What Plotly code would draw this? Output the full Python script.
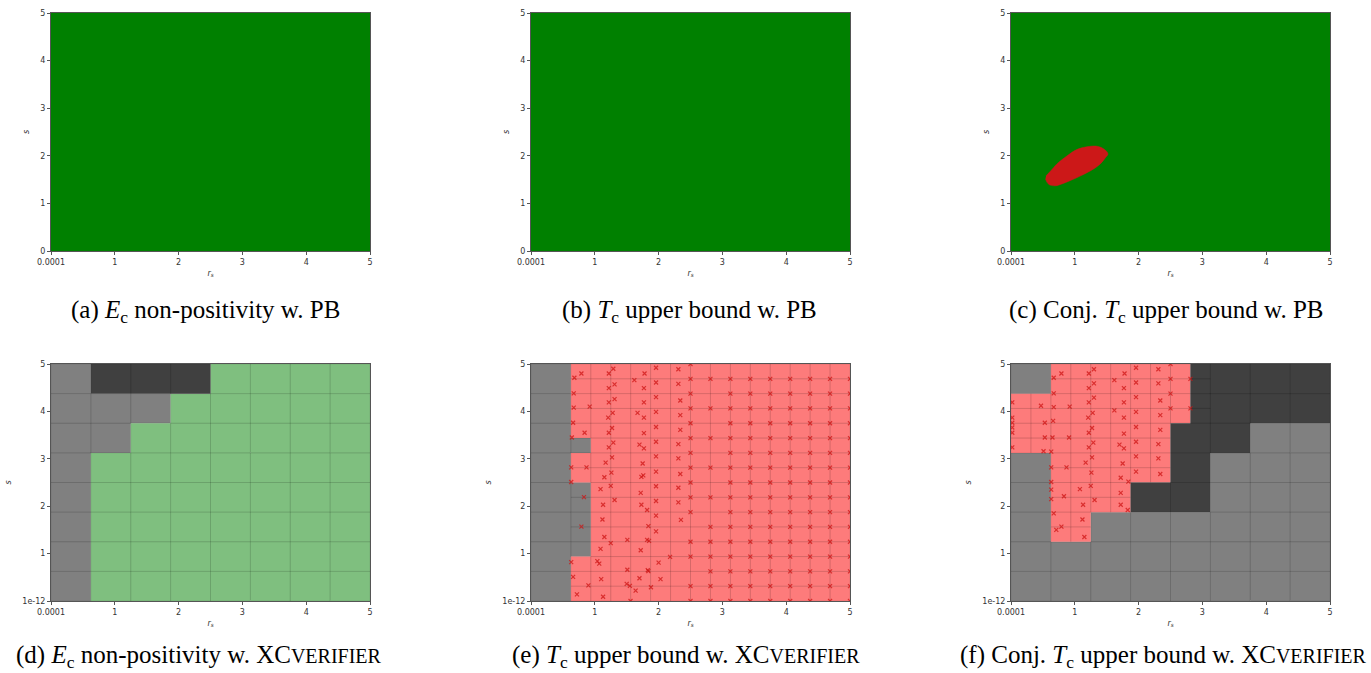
import plotly.graph_objects as go

# ---------------- data ----------------
# Verifier grid (r_s and s edges)
RS_EDGES = [0.0001, 0.3125, 0.625, 0.9375, 1.25, 1.5625, 1.875, 2.1875, 2.5,
            2.8125, 3.125, 3.4375, 3.75, 4.0625, 4.375, 4.6875, 5.0]
S_EDGES = [0.0, 0.3125, 0.625, 0.9375, 1.25, 1.5625, 1.875, 2.1875, 2.5,
           2.8125, 3.125, 3.4375, 3.75, 4.0625, 4.375, 4.6875, 5.0]

# Full domain (PB panels)
RS_RANGE = [0.0001, 5.0]
S_RANGE = [0.0, 5.0]

# Counterexample region of panel (c), boundary
ELLIPSE_RS = [0.54, 0.59, 0.69, 0.82, 1.03, 1.24, 1.40, 1.48, 1.52, 1.46, 1.35,
              1.19, 1.03, 0.88, 0.72, 0.62, 0.55]
ELLIPSE_S = [1.51, 1.40, 1.37, 1.42, 1.54, 1.68, 1.83, 1.96, 2.04, 2.14, 2.20,
             2.19, 2.13, 2.00, 1.83, 1.68, 1.58]

# Status codes: V verified, R counterexample, G not verified, D dark (other)
# Panel (d): coarse 8x8 grid, top row first
D_COARSE = [
    "GDDDVVVV",
    "GGGVVVVV",
    "GGVVVVVV",
    "GVVVVVVV",
    "GVVVVVVV",
    "GVVVVVVV",
    "GVVVVVVV",
    "GVVVVVVV",
]

# Panel (e): fine 16x16 grid, top row first
E_FINE = [
    "GGRRRRRRRRRRRRRR",
    "GGRRRRRRRRRRRRRR",
    "GGRRRRRRRRRRRRRR",
    "GGRRRRRRRRRRRRRR",
    "GGRRRRRRRRRRRRRR",
    "GGGRRRRRRRRRRRRR",
    "GGRRRRRRRRRRRRRR",
    "GGRRRRRRRRRRRRRR",
    "GGGRRRRRRRRRRRRR",
    "GGGRRRRRRRRRRRRR",
    "GGGRRRRRRRRRRRRR",
    "GGGRRRRRRRRRRRRR",
    "GGGRRRRRRRRRRRRR",
    "GGRRRRRRRRRRRRRR",
    "GGRRRRRRRRRRRRRR",
    "GGRRRRRRRRRRRRRR",
]
E_SPLIT = ["01111111"] * 8

# Panel (f)
F_FINE = [
    "GGRRRRRRRDDDDDDD",
    "GGRRRRRRRDDDDDDD",
    "RRRRRRRRRDDDDDDD",
    "RRRRRRRRRDDDDDDD",
    "RRRRRRRRDDDDGGGG",
    "RRRRRRRRDDDDGGGG",
    "GGRRRRRRDDGGGGGG",
    "GGRRRRRRDDGGGGGG",
    "GGRRRRDDDDGGGGGG",
    "GGRRRRDDDDGGGGGG",
    "GGRRGGGGGGGGGGGG",
    "GGRRGGGGGGGGGGGG",
    "GGGGGGGGGGGGGGGG",
    "GGGGGGGGGGGGGGGG",
    "GGGGGGGGGGGGGGGG",
    "GGGGGGGGGGGGGGGG",
]
F_SPLIT = [
    "01111000",
    "11111000",
    "11110000",
    "01110000",
    "01100000",
    "01000000",
    "00000000",
    "00000000",
]

# Counterexample points, panel (e): irregular part (r_s, s)
E_CEX_RS = [0.68, 0.79, 0.67, 0.67, 0.92, 0.66, 0.84, 0.64, 0.63, 0.87, 0.63, 0.83,
            0.79, 0.63, 0.66, 0.90, 0.72,
            1.22, 1.29, 1.22, 1.31, 1.22, 1.31, 1.21, 1.28, 1.22, 1.27, 1.22, 1.29,
            1.27, 1.17, 1.26, 1.15, 1.09, 1.25, 1.13, 1.31, 1.12, 1.15, 1.25, 1.09,
            1.04, 1.07, 1.10, 1.13,
            1.62, 1.78, 1.77, 1.77, 1.67, 1.77, 1.77, 1.70, 1.77, 1.75, 1.73, 1.76,
            1.72, 1.73, 1.82, 1.84, 1.51, 1.82, 1.85, 1.72, 1.51, 1.83, 1.84, 1.70,
            1.50, 1.55, 1.64, 1.88, 1.56,
            1.96, 1.96, 1.96, 1.96, 1.96, 1.96, 1.96, 1.96, 1.96, 1.96, 1.96, 1.96,
            2.00, 2.03,
            2.31, 2.31, 2.34, 2.34, 2.34, 2.31, 2.31, 2.34, 2.31, 2.31, 2.35, 2.18]
E_CEX_S = [4.71, 4.80, 4.38, 4.08, 4.10, 3.76, 3.55, 3.45, 2.82, 2.82, 2.51, 2.19,
           1.57, 0.82, 0.51, 0.33, 0.14,
           4.80, 4.90, 4.49, 4.57, 4.19, 4.26, 3.87, 3.97, 3.55, 3.65, 3.24, 3.34,
           3.03, 2.92, 2.71, 2.61, 2.36, 2.43, 2.03, 2.13, 1.72, 1.35, 1.22, 1.10,
           0.84, 0.79, 0.46, 0.09,
           4.66, 4.80, 4.49, 4.19, 3.97, 3.87, 3.54, 3.30, 3.22, 2.90, 2.62, 2.65,
           2.28, 2.03, 1.92, 1.58, 1.29, 1.29, 1.27, 1.07, 0.66, 0.65, 0.63, 0.48,
           0.36, 0.32, 0.22, 0.29, 0.00,
           4.92, 4.61, 4.30, 3.99, 3.67, 3.36, 3.05, 2.73, 2.42, 2.11, 1.80, 1.47,
           0.81, 0.46,
           4.89, 4.58, 4.23, 3.92, 3.61, 3.31, 3.01, 2.68, 2.39, 2.08, 1.71, 0.93]

# Panel (e): regular lattice of counterexamples for r_s >= 2.5
LATTICE_RS = [2.5, 2.8125, 3.125, 3.4375, 3.75, 4.0625, 4.375, 4.6875, 5.0]
LATTICE_S = [0.0, 0.3125, 0.625, 0.9375, 1.25, 1.5625, 1.875, 2.1875, 2.5, 2.8125,
             3.125, 3.4375, 3.75, 4.0625, 4.375, 4.6875, 5.0]
LATTICE_MISSING = [(2.5, 1.5625), (2.5, 0.625),
                   (2.8125, 4.375), (2.8125, 3.75), (2.8125, 3.125), (2.8125, 2.5),
                   (2.8125, 1.875)]
LATTICE_TOP_ONLY = [2.5]  # columns with a point at s = 5

# Counterexample points, panel (f)
F_CEX_RS = [0.02, 0.02, 0.02, 0.02, 0.02, 0.02, 0.47, 0.53, 0.53, 0.51, 0.63,
            0.67, 0.79, 0.67, 0.67, 0.92, 0.66, 0.65, 0.91, 0.63, 0.87, 0.63, 0.63,
            0.63, 0.83, 0.67, 0.79, 0.71,
            1.15, 1.12, 1.13, 1.08, 1.25, 1.31, 1.17, 1.26, 1.27, 1.22, 1.29, 1.22,
            1.27, 1.21, 1.28, 1.22, 1.30, 1.22, 1.30, 1.22, 1.30,
            1.62, 1.78, 1.77, 1.77, 1.62, 1.77, 1.77, 1.70, 1.77, 1.75, 1.72, 1.84,
            1.72, 1.72, 1.83,
            1.96, 1.96, 1.96, 1.96, 1.96, 1.96, 1.96, 1.96,
            2.31, 2.31, 2.34, 2.34, 2.34, 2.31, 2.31, 2.34,
            2.50, 2.50, 2.50, 2.50, 2.8125, 2.8125]
F_CEX_S = [4.19, 3.87, 3.76, 3.66, 3.55, 3.24, 4.12, 3.76, 3.45, 3.16, 3.15,
           4.71, 4.80, 4.38, 4.09, 4.10, 3.80, 3.45, 3.45, 2.82, 2.82, 2.51, 2.35,
           2.15, 2.21, 1.85, 1.57, 1.50,
           1.35, 1.72, 2.03, 2.36, 2.43, 2.13, 2.92, 2.71, 3.03, 3.24, 3.34, 3.55,
           3.65, 3.87, 3.97, 4.19, 4.29, 4.49, 4.59, 4.80, 4.89,
           4.66, 4.80, 4.49, 4.19, 4.02, 3.87, 3.53, 3.30, 3.22, 2.90, 2.60, 2.52,
           2.28, 2.03, 1.92,
           4.92, 4.61, 4.30, 3.99, 3.67, 3.36, 3.05, 2.73,
           4.89, 4.59, 4.23, 3.92, 3.61, 3.31, 3.01, 2.68,
           5.00, 4.6875, 4.375, 4.0625, 4.6875, 4.0625]

X_TICKVALS = [0.0001, 1, 2, 3, 4, 5]
X_TICKTEXT = ["0.0001", "1", "2", "3", "4", "5"]
Y_TICKVALS = [0, 1, 2, 3, 4, 5]
Y_TICKTEXT_TOP = ["0", "1", "2", "3", "4", "5"]
Y_TICKTEXT_BOTTOM = ["1e-12", "1", "2", "3", "4", "5"]

SC = "<span style='font-size:20px'>VERIFIER</span>"
CAPTIONS = [
    "(a) <i>E</i><sub>c</sub> non-positivity w. PB",
    "(b) <i>T</i><sub>c</sub> upper bound w. PB",
    "(c) Conj. <i>T</i><sub>c</sub> upper bound w. PB",
    "(d) <i>E</i><sub>c</sub> non-positivity w. XC" + SC,
    "(e) <i>T</i><sub>c</sub> upper bound w. XC" + SC,
    "(f) Conj. <i>T</i><sub>c</sub> upper bound w. XC" + SC,
]

# ---------------- styles ----------------
W, H = 1371, 673
COL_LEFT = [51, 531, 1011]
PLOT_W = 319
ROW_TOP = [13, 364]
PLOT_H = [238, 237]
CAP_X = [205, 690, 1166, 199, 686, 1163]
CAP_Y = [311, 656]

COLORS = {"V": "#7fbf7f", "R": "#fd7b7b", "G": "#808080", "D": "#404040"}
EDGE = "rgba(0,0,0,0.08)"
PB_GREEN = "#008000"
PB_RED = "#cc1818"
CEX_COLOR = "rgba(205,20,20,0.75)"

fig = go.Figure()


def cells(fine_rows, split_rows):
    fine = fine_rows[::-1]
    split = split_rows[::-1]
    out = {}
    for cr in range(8):
        for cc in range(8):
            if split[cr][cc] == "1":
                for fr in (2 * cr, 2 * cr + 1):
                    for fc in (2 * cc, 2 * cc + 1):
                        st = fine[fr][fc]
                        out.setdefault(st, []).append(
                            (RS_EDGES[fc], RS_EDGES[fc + 1], S_EDGES[fr], S_EDGES[fr + 1]))
            else:
                st = fine[2 * cr][2 * cc]
                out.setdefault(st, []).append(
                    (RS_EDGES[2 * cc], RS_EDGES[2 * cc + 2], S_EDGES[2 * cr], S_EDGES[2 * cr + 2]))
    return out


def add_cells(fine_rows, split_rows, k):
    groups = cells(fine_rows, split_rows)
    for st, rects in groups.items():
        xs, ys = [], []
        for x0, x1, y0, y1 in rects:
            xs += [x0, x1, x1, x0, x0, None]
            ys += [y0, y0, y1, y1, y0, None]
        fig.add_trace(go.Scatter(
            x=xs, y=ys, mode="lines", fill="toself", fillcolor=COLORS[st],
            line=dict(color=EDGE, width=1), hoverinfo="skip", showlegend=False,
            xaxis=f"x{k}", yaxis=f"y{k}"))


def add_points(xs, ys, k):
    fig.add_trace(go.Scatter(
        x=xs, y=ys, mode="markers",
        marker=dict(symbol="x-thin", size=4, line=dict(color=CEX_COLOR, width=1.2)),
        hoverinfo="skip", showlegend=False, xaxis=f"x{k}", yaxis=f"y{k}"))


def add_region(k, color):
    fig.add_trace(go.Scatter(
        x=[RS_RANGE[0], RS_RANGE[1], RS_RANGE[1], RS_RANGE[0], RS_RANGE[0]],
        y=[S_RANGE[0], S_RANGE[0], S_RANGE[1], S_RANGE[1], S_RANGE[0]],
        mode="lines", fill="toself", fillcolor=color, line=dict(width=0),
        hoverinfo="skip", showlegend=False, xaxis=f"x{k}", yaxis=f"y{k}"))


# Top row: PB
add_region(1, PB_GREEN)
add_region(2, PB_GREEN)
add_region(3, PB_GREEN)
fig.add_trace(go.Scatter(
    x=ELLIPSE_RS, y=ELLIPSE_S, mode="lines", fill="toself", fillcolor=PB_RED,
    line=dict(width=0.5, color=PB_RED, shape="spline"), hoverinfo="skip",
    showlegend=False, xaxis="x3", yaxis="y3"))

# Bottom row: XCVerifier
d_fine = []
for row in D_COARSE:
    r = "".join(ch * 2 for ch in row)
    d_fine += [r, r]
add_cells(d_fine, ["00000000"] * 8, 4)

add_cells(E_FINE, E_SPLIT, 5)
lat_x, lat_y = [], []
for xv in LATTICE_RS:
    for yv in LATTICE_S:
        if (xv, yv) in LATTICE_MISSING:
            continue
        if yv == 5.0 and xv not in LATTICE_TOP_ONLY:
            continue
        lat_x.append(xv)
        lat_y.append(yv)
add_points(E_CEX_RS + lat_x, E_CEX_S + lat_y, 5)

add_cells(F_FINE, F_SPLIT, 6)
add_points(F_CEX_RS, F_CEX_S, 6)

# ---------------- layout ----------------
AX_COLOR = "#555555"
layout = dict(width=W, height=H, margin=dict(l=0, r=0, t=0, b=0, autoexpand=False),
              paper_bgcolor="white", plot_bgcolor="white",
              font=dict(family="DejaVu Sans", color="#333333"))
annotations = []
for k in range(1, 7):
    row = 0 if k <= 3 else 1
    col = (k - 1) % 3
    x0 = COL_LEFT[col] / W
    x1 = (COL_LEFT[col] + PLOT_W) / W
    top = ROW_TOP[row]
    bot = top + PLOT_H[row]
    y0 = 1 - bot / H
    y1 = 1 - top / H
    common = dict(showgrid=False, zeroline=False, showline=True, mirror=True,
                  automargin=False,
                  linecolor=AX_COLOR, linewidth=1, ticks="outside", ticklen=3,
                  tickcolor=AX_COLOR, tickfont=dict(size=8, color="#333333"))
    layout[f"xaxis{k}"] = dict(domain=[x0, x1], range=RS_RANGE, anchor=f"y{k}",
                               tickvals=X_TICKVALS, ticktext=X_TICKTEXT,
                               title=dict(text="<i>r<sub>s</sub></i>", font=dict(size=8),
                                          standoff=4),
                               **common)
    layout[f"yaxis{k}"] = dict(domain=[y0, y1], range=S_RANGE, anchor=f"x{k}",
                               tickvals=Y_TICKVALS,
                               ticktext=Y_TICKTEXT_TOP if row == 0 else Y_TICKTEXT_BOTTOM,
                               title=dict(text="<i>s</i>", font=dict(size=8), standoff=9),
                               **common)
    annotations.append(dict(
        text=CAPTIONS[k - 1], x=CAP_X[k - 1] / W, y=1 - CAP_Y[row] / H,
        xref="paper", yref="paper",
        xanchor="center", yanchor="middle", showarrow=False,
        font=dict(family="Liberation Serif", size=25, color="black")))
layout["annotations"] = annotations
fig.update_layout(**layout)

fig.write_html("out.html", config={"displayModeBar": False},
               post_script="document.body.style.margin='0px';document.body.style.overflow='hidden';")
